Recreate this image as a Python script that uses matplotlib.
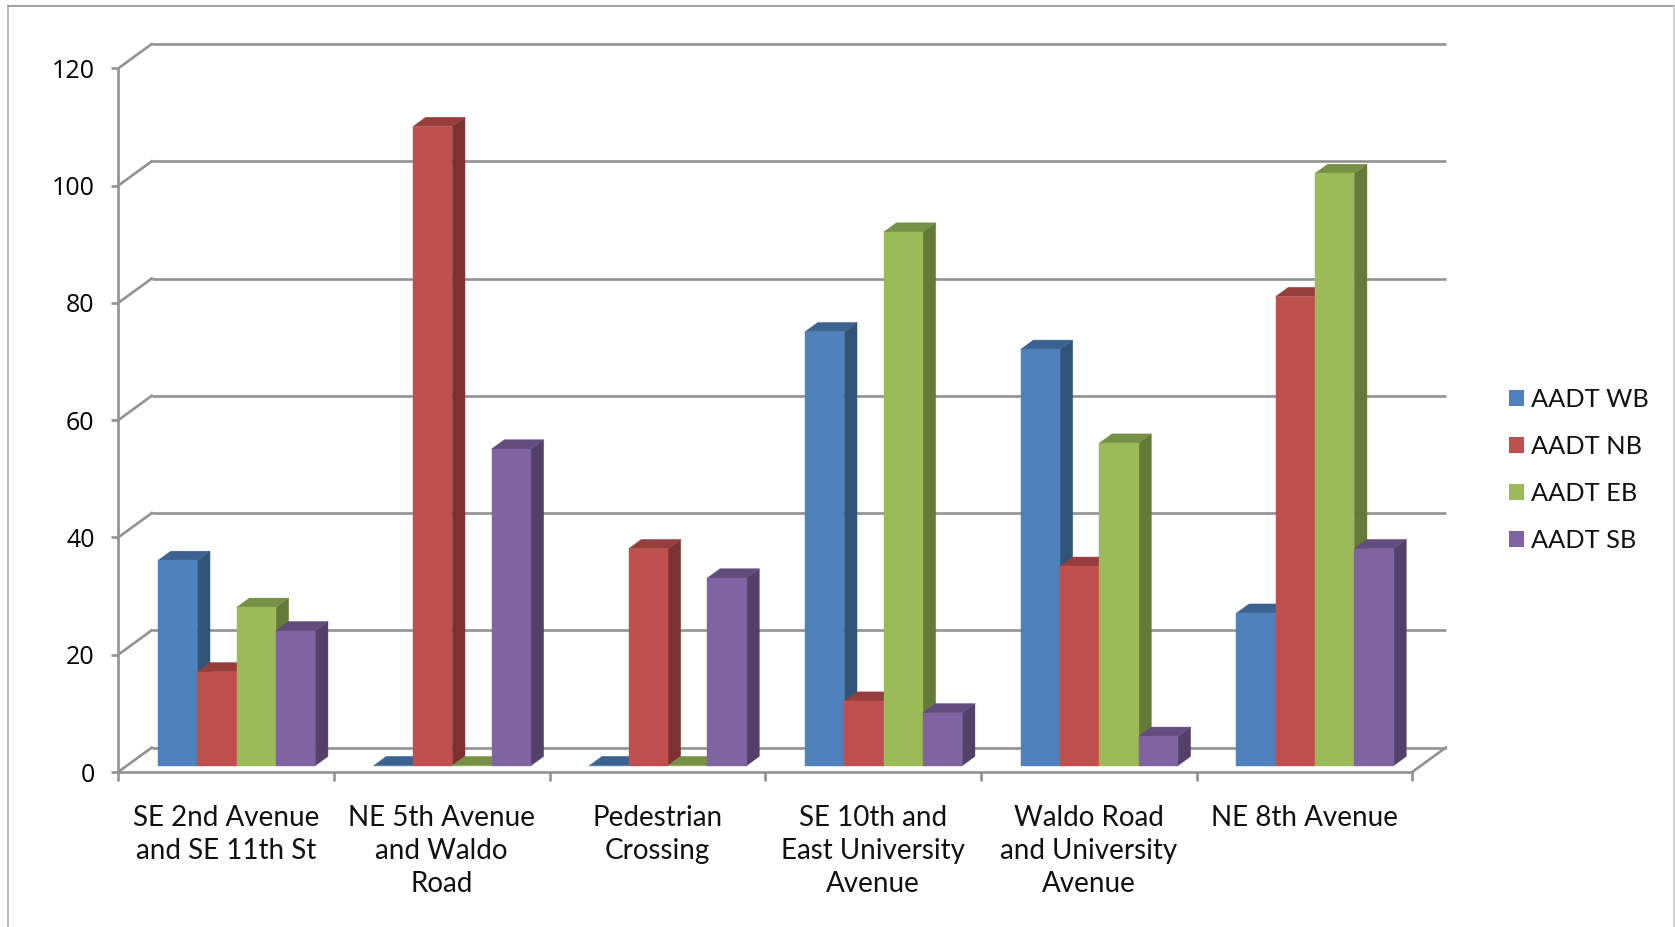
import matplotlib
matplotlib.use("Agg")
import matplotlib.pyplot as plt
from matplotlib.lines import Line2D
from matplotlib.patches import Patch, Polygon

categories = [
    "SE 2nd Avenue\nand SE 11th St",
    "NE 5th Avenue\nand Waldo\nRoad",
    "Pedestrian\nCrossing",
    "SE 10th and\nEast University\nAvenue",
    "Waldo Road\nand University\nAvenue",
    "NE 8th Avenue",
]
aadt_wb = [35, 0, 0, 74, 71, 26]
aadt_nb = [16, 109, 37, 11, 34, 80]
aadt_eb = [27, 0, 0, 91, 55, 101]
aadt_sb = [23, 54, 32, 9, 5, 37]
series_names = ["AADT WB", "AADT NB", "AADT EB", "AADT SB"]
y_ticks = [0, 20, 40, 60, 80, 100, 120]

series_values = [aadt_wb, aadt_nb, aadt_eb, aadt_sb]
front_colors = ["#4F81BD", "#C0504D", "#9BBB59", "#8064A2"]
side_colors = ["#325479", "#7D3231", "#657A39", "#534069"]
top_colors = ["#3C6290", "#963E3B", "#769045", "#624C7D"]

GRID = "#929292"
TEXT_FONT = ["Lato", "DejaVu Sans"]
NUM_FONT = ["Open Sans", "DejaVu Sans"]

W, H = 1675, 927
fig = plt.figure(figsize=(W / 100, H / 100), dpi=100, facecolor="white")
ax = fig.add_axes([118.2 / W, 1 - 772 / H, (1412.2 - 118.2) / W, (772 - 68.4) / H])
ax.set_xlim(0, 6)
ax.set_ylim(0, 120)
ax.patch.set_visible(False)

# Oblique projection: depth 0 is the front plane, depth 1 the back wall.
DX = 33.5 / (1294 / 6)
DY = 24.4 / (703.6 / 120)


def project(x, y, depth):
    return x + depth * DX, y + depth * DY


# Walls: gridlines along the back wall, diagonals along the left wall, floor edge.
LINE_W = 1.9
for v in y_ticks:
    bx0, by = project(0, v, 1)
    bx1, _ = project(6, v, 1)
    ax.plot([bx0, bx1], [by, by], color=GRID, lw=LINE_W, clip_on=False, zorder=1,
            solid_capstyle="butt")
    ax.plot([0, bx0], [v, by], color=GRID, lw=LINE_W, clip_on=False, zorder=1)
fx, fy = project(6, 0, 1)
ax.plot([6, fx], [0, fy], color=GRID, lw=LINE_W, clip_on=False, zorder=1)

# Bars, painted left to right so each front face hides its neighbour's side.
BAR_W = 0.1823
GAP = 0.144
D0, D1 = 0.26, 0.64
z = 3.0
for i in range(len(categories)):
    for k, values in enumerate(series_values):
        v = values[i]
        x0 = i + GAP + k * BAR_W
        x1 = x0 + BAR_W
        side = [project(x1, 0, D0), project(x1, 0, D1), project(x1, v, D1), project(x1, v, D0)]
        top = [project(x0, v, D0), project(x1, v, D0), project(x1, v, D1), project(x0, v, D1)]
        front = [project(x0, 0, D0), project(x1, 0, D0), project(x1, v, D0), project(x0, v, D0)]
        for pts, col in ((side, side_colors[k]), (top, top_colors[k]), (front, front_colors[k])):
            ax.add_patch(Polygon(pts, closed=True, facecolor=col, edgecolor=col, lw=0.3,
                                 clip_on=False, zorder=z))
            z += 0.001

# Axes lines and ticks
for name in ("top", "right"):
    ax.spines[name].set_visible(False)
for name in ("left", "bottom"):
    ax.spines[name].set_color(GRID)
    ax.spines[name].set_linewidth(LINE_W)
    ax.spines[name].set_zorder(2)

ax.set_yticks(y_ticks)
ax.tick_params(axis="y", length=5, width=LINE_W, color=GRID, pad=12, labelsize=18, labelcolor="black")
for t in ax.get_yticklabels():
    t.set_fontfamily(NUM_FONT)

ax.set_xticks(range(7))
ax.set_xticklabels([])
ax.tick_params(axis="x", which="major", length=6.5, width=LINE_W, color=GRID)
ax.set_xticks([i + 0.5 for i in range(6)], minor=True)
ax.set_xticklabels(categories, minor=True, fontfamily=TEXT_FONT, fontsize=20, color="#111111",
                   linespacing=1.34)
ax.tick_params(axis="x", which="minor", length=0, pad=23.5)

# Legend
LEGEND_PT = 18.3
font_px = LEGEND_PT * 100 / 72
handles = [Patch(facecolor=c, edgecolor=c, lw=0) for c in front_colors]
fig.legend(handles, series_names, loc="center left",
           bbox_to_anchor=(1509 / W, 1 - 470 / H), frameon=False,
           prop={"family": TEXT_FONT, "size": LEGEND_PT},
           labelcolor="#111111", borderpad=0, borderaxespad=0,
           handlelength=15 / font_px, handleheight=15 / font_px,
           handletextpad=7 / font_px, labelspacing=(48 - font_px * 0.95) / font_px)

# Chart border
for xs, ys, col in (
    ([7.5, 7.5], [6.3, 927], "#A6A6A6"),
    ([7.5, 1674.4], [6.3, 6.3], "#868686"),
    ([1674.4, 1674.4], [6.3, 927], "#C8C8C8"),
):
    fig.add_artist(Line2D([x / W for x in xs], [1 - y / H for y in ys], color=col, lw=1.1))

fig.savefig("out.png", dpi=100)
